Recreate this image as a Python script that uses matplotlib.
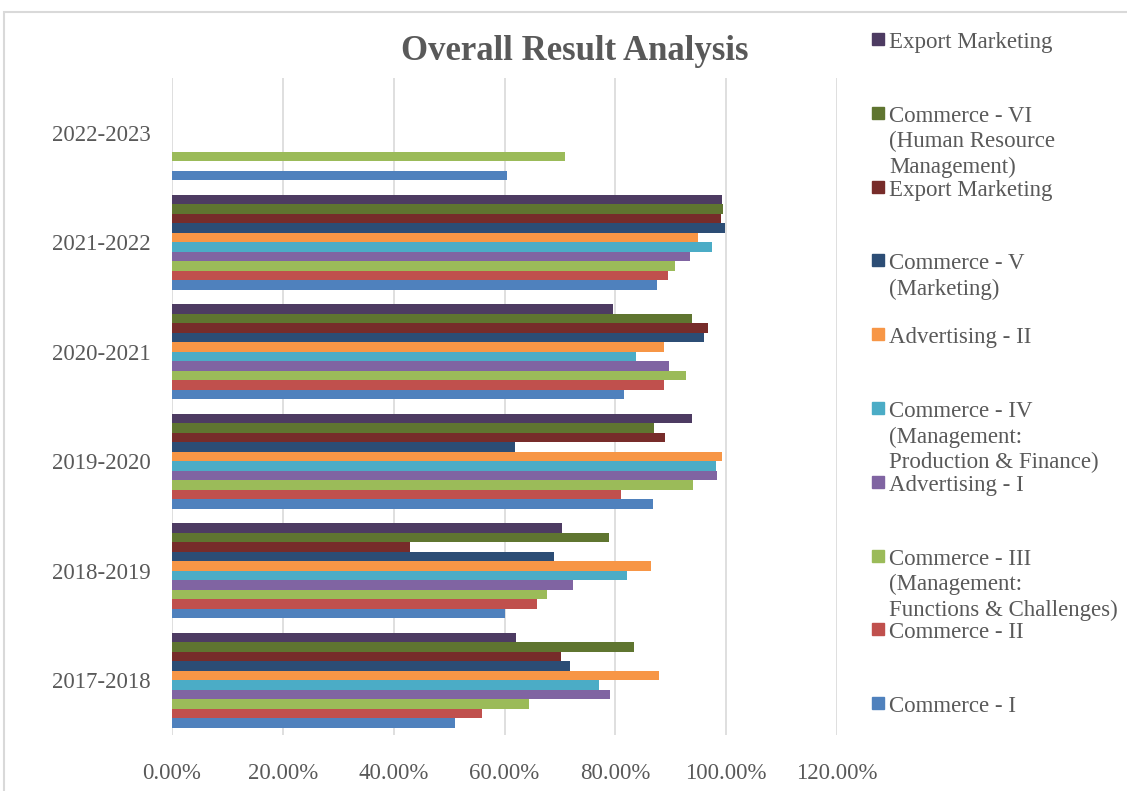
import numpy as np
import matplotlib
matplotlib.use("Agg")
import matplotlib.pyplot as plt
from matplotlib.patches import Rectangle

years = ["2017-2018", "2018-2019", "2019-2020", "2020-2021", "2021-2022", "2022-2023"]

series_names = [
    "Commerce - I",
    "Commerce - II",
    "Commerce - III\n(Management:\nFunctions & Challenges)",
    "Advertising - I",
    "Commerce - IV\n(Management:\nProduction & Finance)",
    "Advertising - II",
    "Commerce - V\n(Marketing)",
    "Export Marketing",
    "Commerce - VI\n(Human Resource\nManagement)",
    "Export Marketing",
]

colors = ["#4F81BD", "#C0504D", "#9BBB59", "#8064A2", "#4BACC6",
          "#F79646", "#2C4D75", "#772C2A", "#5F7530", "#4D3B62"]

nan = np.nan
# pass percentage per series, one value per academic year
commerce_1 = [51.1, 60.1, 86.8, 81.5, 87.5, 60.4]
commerce_2 = [56.0, 65.9, 81.0, 88.8, 89.5, nan]
commerce_3 = [64.4, 67.7, 94.0, 92.7, 90.8, 71.0]
advertising_1 = [79.0, 72.3, 98.4, 89.6, 93.4, nan]
commerce_4 = [77.0, 82.1, 98.1, 83.7, 97.4, nan]
advertising_2 = [87.9, 86.4, 99.2, 88.7, 94.9, nan]
commerce_5 = [71.9, 68.9, 61.9, 96.0, 99.7, nan]
export_mkt_a = [70.2, 42.9, 88.9, 96.8, 99.0, nan]
commerce_6 = [83.3, 78.8, 87.0, 93.9, 99.4, nan]
export_mkt_b = [62.0, 70.4, 93.9, 79.6, 99.2, nan]

values = [commerce_1, commerce_2, commerce_3, advertising_1, commerce_4,
          advertising_2, commerce_5, export_mkt_a, commerce_6, export_mkt_b]

text_col = "#595959"
grid_col = "#D9D9D9"
serif = ["Liberation Serif", "DejaVu Serif"]

fig = plt.figure(figsize=(11.27, 7.91), dpi=100)
ax = fig.add_axes([172 / 1127, 1 - 735 / 791, (837 - 172) / 1127, (735 - 78) / 791])

y = np.arange(len(years))
bar_h = 0.087
for i, (vals, c) in enumerate(zip(values, colors)):
    ax.barh(y + (i - 4.5) * bar_h, np.array(vals) / 100, height=bar_h,
            color=c, edgecolor="none", zorder=3)

ax.set_xlim(0, 1.2)
ax.set_ylim(-0.5, 5.5)
ax.set_xticks(np.arange(0, 1.21, 0.2))
ax.set_xticklabels([f"{v * 100:.2f}%" for v in np.arange(0, 1.21, 0.2)])
ax.set_yticks(y)
ax.set_yticklabels(years)
ax.grid(axis="x", color=grid_col, linewidth=1.2, zorder=0)
for s in ax.spines.values():
    s.set_visible(False)
ax.tick_params(length=0, labelsize=16.5, labelcolor=text_col)
ax.tick_params(axis="y", pad=15.5)
ax.tick_params(axis="x", pad=20)
for lab in ax.get_xticklabels() + ax.get_yticklabels():
    lab.set_family(serif)

fig.text(575 / 1127, 1 - 51 / 791, "Overall Result Analysis", ha="center", va="center",
         fontsize=25, fontweight="bold", color=text_col, family=serif)

# legend, Excel style: evenly spaced entries, top entry is the last series
y0, step = 39, 73.8
for k, idx in enumerate(range(len(series_names) - 1, -1, -1)):
    ypx = y0 + k * step
    fig.patches.append(Rectangle((872 / 1127, 1 - (ypx + 6) / 791), 12 / 1127, 12 / 791,
                                 transform=fig.transFigure, color=colors[idx]))
    fig.text(889 / 1127, 1 - (ypx - 7) / 791, series_names[idx], ha="left", va="top",
             fontsize=16.5, color=text_col, family=serif, linespacing=1.28)

# chart border
fig.patches.append(Rectangle((4 / 1127, -0.05), 1.1, 1 - 12 / 791 + 0.05,
                             transform=fig.transFigure, fill=False,
                             edgecolor=grid_col, linewidth=1.5))

fig.savefig("out.png", dpi=100)
